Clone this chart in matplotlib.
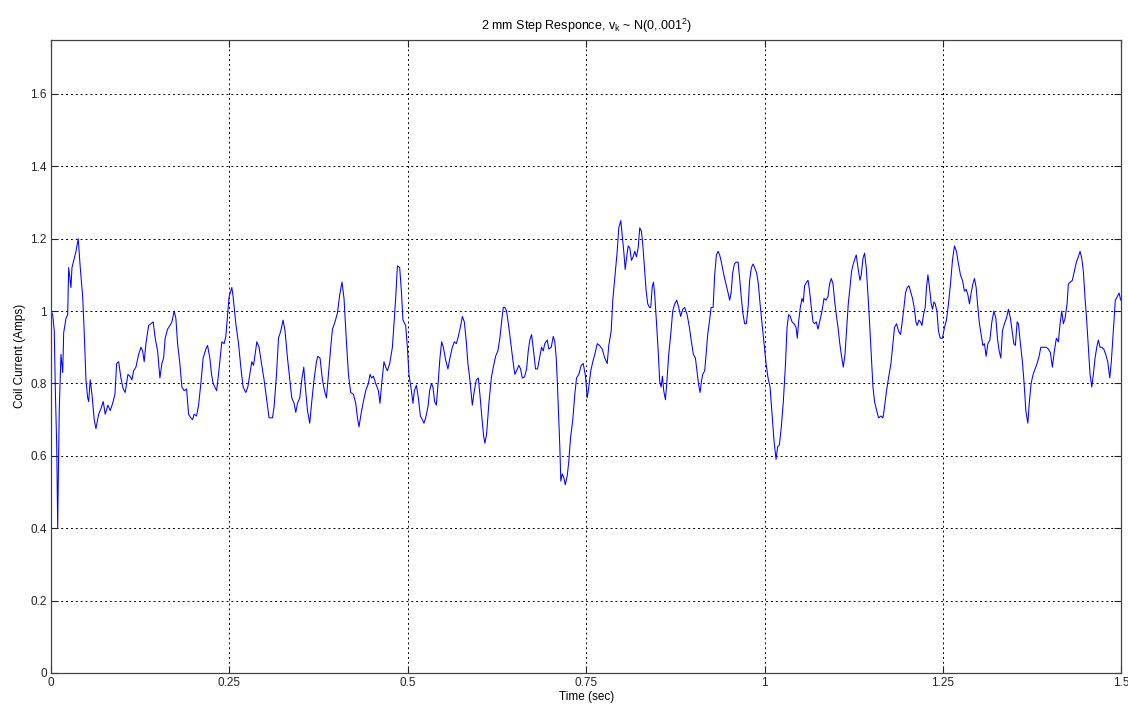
import numpy as np
import matplotlib
matplotlib.use('Agg')
import matplotlib.pyplot as plt

plt.rcParams['font.family'] = ['Liberation Sans', 'DejaVu Sans']
plt.rcParams['mathtext.default'] = 'regular'

# coil current samples: time in ms, current in amps
t_ms = [0, 2.4, 4.6, 6.0, 8.0, 9.4, 10.2, 11.6, 14.0, 16.4, 17.8, 21.0, 23.4, 24.8, 28.0, 29.4,
        32.6, 35.0, 38.2, 41.0, 44.4, 46.6, 49.0, 51.4, 52.8, 55.0, 57.4, 60.6, 63.0, 66.8,
        70.0, 73.2, 76.0, 79.8, 83.0, 86.4, 89.6, 92.0, 94.8, 98.0, 101.2, 104.0, 107.8,
        110.6, 113.4, 115.8, 119.0, 122.8, 126.0, 128.4, 130.6, 133.0, 136.8, 140.0, 143.2,
        146.0, 149.4, 152.6, 155.4, 157.8, 160.0, 163.4, 166.6, 169.4, 172.6, 175.0, 177.4,
        180.6, 183.4, 186.6, 190.0, 192.8, 196.0, 198.4, 200.6, 204.0, 206.8, 210.0, 213.2,
        217.0, 219.4, 222.6, 225.0, 227.2, 229.6, 232.0, 234.2, 237.0, 239.4, 242.6, 245.0,
        249.6, 253.4, 255.2, 259.0, 262.8, 266.0, 269.2, 273.0, 275.8, 278.6, 281.4, 283.8,
        286.0, 288.4, 291.6, 295.0, 298.6, 302.0, 305.6, 310.4, 312.6, 316.0, 318.8, 322.0,
        325.2, 328.0, 331.4, 334.6, 337.4, 340.6, 343.0, 345.4, 348.6, 351.4, 354.2, 356.0,
        359.4, 362.6, 365.4, 368.6, 372.0, 373.8, 377.0, 380.4, 383.2, 386.0, 388.8, 392.0,
        394.4, 398.0, 401.4, 404.6, 407.8, 410.6, 414.0, 416.8, 420.0, 423.8, 427.0, 429.4,
        431.6, 434.4, 437.2, 441.0, 444.8, 447.0, 449.4, 451.8, 455.0, 458.8, 461.0, 463.4,
        466.6, 469.0, 471.4, 474.6, 478.4, 480.6, 483.0, 485.4, 488.6, 491.0, 493.2, 497.0,
        499.4, 501.6, 505.0, 507.2, 509.2, 512.0, 514.8, 517.6, 520.4, 522.6, 525.0, 528.2,
        530.6, 533.0, 535.2, 537.6, 540.0, 542.8, 545.0, 547.4, 549.8, 553.0, 556.2, 559.0,
        562.4, 565.2, 568.0, 570.8, 573.6, 576.4, 579.2, 582.0, 584.2, 587.0, 590.4, 593.2,
        596.0, 598.8, 601.0, 603.4, 606.2, 608.0, 610.4, 613.6, 617.0, 619.8, 623.0, 626.2,
        629.0, 631.4, 633.8, 636.0, 638.4, 641.6, 645.0, 647.8, 650.0, 652.4, 655.6, 658.0,
        660.4, 663.6, 666.4, 668.8, 671.0, 673.4, 676.2, 679.0, 681.8, 684.6, 687.4, 689.8,
        692.0, 695.4, 697.6, 701.0, 703.8, 706.0, 708.0, 709.8, 711.6, 713.0, 714.4, 716.4,
        718.6, 720.6, 723.4, 725.6, 728.0, 731.2, 734.0, 736.4, 739.6, 743.0, 745.8, 749.0,
        751.4, 753.6, 756.4, 759.2, 762.0, 765.4, 768.6, 772.4, 776.0, 779.4, 781.6, 785.0,
        787.2, 790.0, 793.4, 795.6, 798.4, 800.4, 802.6, 804.6, 806.4, 808.8, 811.0, 813.4,
        815.8, 818.0, 820.4, 822.8, 825.0, 827.4, 829.2, 831.6, 834.0, 836.2, 838.6, 840.4,
        842.4, 844.2, 846.0, 848.4, 850.8, 853.0, 855.0, 856.8, 858.6, 861.0, 863.4, 865.6,
        868.4, 871.2, 874.0, 876.8, 879.6, 882.4, 885.2, 888.0, 891.4, 894.6, 897.4, 900.2,
        903.0, 905.8, 907.6, 909.6, 911.4, 913.2, 916.0, 918.0, 920.2, 922.6, 925.0, 927.8,
        930.0, 932.4, 934.8, 937.0, 939.4, 941.8, 944.0, 946.4, 948.8, 951.0, 953.0, 955.2,
        957.6, 960.0, 962.8, 965.0, 967.4, 969.8, 972.0, 974.4, 976.8, 979.0, 981.4, 983.8,
        986.0, 988.8, 991.2, 993.6, 996.4, 999.2, 1002.0, 1004.8, 1007.6, 1010.4, 1013.2,
        1016.0, 1018.2, 1020.6, 1023.4, 1026.2, 1029.0, 1031.4, 1033.6, 1036.0, 1038.4,
        1041.2, 1044.0, 1045.8, 1047.6, 1050.0, 1052.4, 1054.2, 1056.0, 1058.8, 1060.8,
        1063.0, 1065.4, 1067.8, 1070.0, 1072.4, 1074.8, 1077.0, 1080.4, 1083.2, 1086.0,
        1088.8, 1091.0, 1093.4, 1095.8, 1098.0, 1100.4, 1102.8, 1105.0, 1107.4, 1110.2,
        1112.6, 1114.8, 1117.2, 1119.6, 1121.8, 1124.2, 1126.6, 1128.4, 1130.8, 1133.6,
        1135.4, 1137.8, 1140.0, 1142.4, 1144.8, 1147.0, 1149.4, 1151.8, 1154.0, 1156.4,
        1159.6, 1163.0, 1165.8, 1168.0, 1170.8, 1173.6, 1177.0, 1179.8, 1182.0, 1184.8,
        1187.6, 1190.4, 1192.8, 1195.2, 1197.4, 1199.8, 1202.2, 1204.4, 1207.2, 1209.6,
        1212.0, 1213.8, 1216.2, 1218.4, 1220.4, 1222.6, 1225.0, 1226.8, 1228.8, 1231.0,
        1233.4, 1235.2, 1237.2, 1239.0, 1241.4, 1243.6, 1246.0, 1249.2, 1252.0, 1254.8,
        1257.6, 1260.4, 1263.2, 1266.0, 1268.8, 1271.6, 1274.4, 1277.2, 1280.0, 1282.4,
        1284.8, 1287.0, 1289.4, 1291.8, 1294.0, 1296.4, 1298.8, 1301.0, 1303.4, 1305.8,
        1308.0, 1310.4, 1312.8, 1315.6, 1318.4, 1321.2, 1324.0, 1326.2, 1328.6, 1331.0,
        1333.2, 1336.0, 1338.8, 1341.6, 1344.4, 1346.8, 1349.2, 1351.4, 1353.8, 1355.6,
        1358.4, 1361.2, 1363.6, 1366.0, 1368.8, 1371.0, 1373.4, 1376.2, 1379.0, 1381.8,
        1384.6, 1387.0, 1389.2, 1392.0, 1394.8, 1397.6, 1400.4, 1403.2, 1406.0, 1408.8,
        1411.6, 1414.0, 1416.4, 1418.6, 1421.0, 1423.8, 1425.6, 1428.4, 1431.2, 1434.0,
        1436.8, 1439.6, 1442.0, 1444.4, 1446.6, 1449.0, 1451.4, 1453.6, 1456.0, 1458.4,
        1460.6, 1463.0, 1465.4, 1467.6, 1470.0, 1472.4, 1475.2, 1478.0, 1480.8, 1483.6,
        1485.8, 1488.6, 1491.4, 1494.2, 1496.6, 1499.0, 1500.0]

amps = [1.0, 0.99, 0.945, 0.79, 0.63, 0.40, 0.53, 0.73, 0.88, 0.83, 0.94, 0.98, 0.99, 1.12, 1.065, 1.12,
        1.145, 1.165, 1.20, 1.12, 1.04, 0.94, 0.81, 0.76, 0.75, 0.81, 0.77, 0.70, 0.675, 0.715,
        0.73, 0.75, 0.715, 0.74, 0.725, 0.745, 0.77, 0.855, 0.86, 0.815, 0.785, 0.775, 0.825,
        0.82, 0.81, 0.835, 0.845, 0.88, 0.90, 0.89, 0.86, 0.91, 0.96, 0.965, 0.97,
        0.925, 0.89, 0.815, 0.855, 0.87, 0.925, 0.95, 0.96, 0.97, 1.00, 0.98, 0.91,
        0.855, 0.79, 0.78, 0.785, 0.715, 0.705, 0.70, 0.715, 0.71, 0.74, 0.80, 0.87,
        0.895, 0.905, 0.87, 0.825, 0.80, 0.79, 0.78, 0.815, 0.87, 0.915, 0.91, 0.93,
        1.04, 1.065, 1.04, 0.965, 0.91, 0.845, 0.79, 0.775, 0.79, 0.825, 0.86, 0.85,
        0.88, 0.915, 0.90, 0.855, 0.81, 0.76, 0.705, 0.705, 0.735, 0.825, 0.925, 0.945,
        0.975, 0.945, 0.87, 0.81, 0.76, 0.745, 0.72, 0.745, 0.76, 0.81, 0.845, 0.80,
        0.725, 0.69, 0.75, 0.81, 0.86, 0.875, 0.87, 0.81, 0.78, 0.76, 0.825, 0.90,
        0.95, 0.97, 0.995, 1.045, 1.08, 1.035, 0.915, 0.825, 0.775, 0.77, 0.745, 0.705,
        0.68, 0.715, 0.745, 0.78, 0.80, 0.825, 0.815, 0.82, 0.80, 0.78, 0.745, 0.80,
        0.86, 0.845, 0.835, 0.855, 0.90, 0.965, 1.035, 1.125, 1.12, 1.055, 0.975, 0.96,
        0.90, 0.825, 0.78, 0.745, 0.78, 0.795, 0.76, 0.71, 0.70, 0.69, 0.705, 0.735,
        0.78, 0.80, 0.79, 0.75, 0.74, 0.81, 0.87, 0.915, 0.90, 0.865, 0.84, 0.87,
        0.90, 0.915, 0.91, 0.93, 0.955, 0.985, 0.97, 0.915, 0.855, 0.81, 0.74, 0.78,
        0.81, 0.815, 0.77, 0.715, 0.655, 0.635, 0.66, 0.745, 0.815, 0.845, 0.875, 0.89,
        0.925, 0.97, 1.01, 1.01, 1.00, 0.955, 0.90, 0.855, 0.825, 0.835, 0.85, 0.84,
        0.815, 0.818, 0.84, 0.89, 0.92, 0.935, 0.89, 0.84, 0.84, 0.87, 0.90, 0.89,
        0.91, 0.92, 0.895, 0.90, 0.93, 0.915, 0.87, 0.79, 0.70, 0.625, 0.53, 0.55,
        0.54, 0.52, 0.545, 0.585, 0.65, 0.70, 0.77, 0.815, 0.825, 0.85, 0.855, 0.82,
        0.76, 0.79, 0.835, 0.86, 0.88, 0.91, 0.905, 0.895, 0.87, 0.855, 0.905, 0.945,
        1.03, 1.09, 1.165, 1.23, 1.25, 1.21, 1.165, 1.115, 1.145, 1.18, 1.175, 1.14,
        1.15, 1.165, 1.15, 1.175, 1.23, 1.22, 1.185, 1.12, 1.055, 1.02, 1.01, 1.01,
        1.065, 1.08, 1.045, 0.97, 0.89, 0.805, 0.79, 0.82, 0.78, 0.755, 0.815, 0.88,
        0.935, 1.00, 1.02, 1.03, 1.01, 0.985, 1.005, 1.01, 0.99, 0.955, 0.915, 0.88,
        0.87, 0.825, 0.795, 0.775, 0.805, 0.825, 0.835, 0.88, 0.935, 0.97, 1.01, 1.01,
        1.10, 1.155, 1.165, 1.155, 1.135, 1.11, 1.09, 1.07, 1.05, 1.03, 1.05, 1.105,
        1.13, 1.135, 1.135, 1.09, 1.035, 0.99, 0.965, 0.965, 1.01, 1.085, 1.12, 1.13,
        1.12, 1.105, 1.075, 1.02, 0.965, 0.91, 0.855, 0.815, 0.79, 0.715, 0.64,
        0.59, 0.625, 0.63, 0.68, 0.75, 0.845, 0.955, 0.99, 0.985, 0.97,
        0.965, 0.955, 0.925, 0.97, 1.01, 1.035, 1.025, 1.07, 1.08, 1.085,
        1.055, 1.01, 0.97, 0.965, 0.97, 0.95, 0.97, 1.00, 1.035, 1.03,
        1.04, 1.075, 1.09, 1.075, 1.03, 0.99, 0.955, 0.915, 0.88, 0.845,
        0.88, 0.945, 1.02, 1.065, 1.11, 1.13, 1.145, 1.155, 1.12, 1.085,
        1.10, 1.145, 1.16, 1.12, 1.045, 0.97, 0.88, 0.79, 0.75, 0.73,
        0.705, 0.71, 0.705, 0.735, 0.78, 0.815, 0.855, 0.91, 0.955, 0.965,
        0.945, 0.935, 0.97, 1.01, 1.05, 1.065, 1.07, 1.055, 1.035, 1.01,
        0.97, 0.96, 0.975, 0.97, 0.96, 0.99, 1.01, 1.065, 1.10, 1.065,
        1.02, 1.005, 1.025, 1.02, 1.00, 0.945, 0.925, 0.925, 0.955, 0.975,
        1.02, 1.075, 1.14, 1.18, 1.165, 1.13, 1.10, 1.085, 1.055, 1.06,
        1.045, 1.02, 1.05, 1.075, 1.09, 1.065, 1.01, 0.965, 0.935, 0.905,
        0.91, 0.875, 0.91, 0.92, 0.97, 1.00, 0.98, 0.925, 0.89, 0.87,
        0.945, 0.965, 0.98, 1.005, 0.98, 0.945, 0.91, 0.905, 0.97, 0.965,
        0.91, 0.86, 0.80, 0.725, 0.69, 0.75, 0.80, 0.825, 0.84, 0.855,
        0.875, 0.90, 0.90, 0.90, 0.90, 0.895, 0.885, 0.845, 0.89, 0.925,
        0.915, 0.965, 1.00, 0.965, 0.98, 1.02, 1.075, 1.08, 1.085, 1.11,
        1.135, 1.15, 1.165, 1.145, 1.11, 1.035, 0.97, 0.90, 0.825, 0.79,
        0.825, 0.87, 0.90, 0.92, 0.90, 0.90, 0.895, 0.88, 0.86, 0.815,
        0.86, 0.945, 1.03, 1.04, 1.05, 1.03, 1.03]

x_ticks = [0, 0.25, 0.5, 0.75, 1, 1.25, 1.5]
x_labels = ['0', '0.25', '0.5', '0.75', '1', '1.25', '1.5']
y_ticks = [0, 0.2, 0.4, 0.6, 0.8, 1, 1.2, 1.4, 1.6]
y_labels = ['0', '0.2', '0.4', '0.6', '0.8', '1', '1.2', '1.4', '1.6']

t = np.array(t_ms) / 1000.0
i_coil = np.array(amps)

fig = plt.figure(figsize=(11.28, 7.07), dpi=100)
ax = fig.add_axes([0.0452, 0.0481, 0.949, 0.8959])

ax.plot(t, i_coil, color='#0000ff', linewidth=0.75)

ax.set_xlim(0, 1.5)
ax.set_ylim(0, 1.75)
ax.set_xticks(x_ticks)
ax.set_xticklabels(x_labels)
ax.set_yticks(y_ticks)
ax.set_yticklabels(y_labels)
ax.tick_params(direction='in', top=True, right=True, length=5, width=0.8,
               labelsize=8.5, colors='#222222', pad=3)
ax.grid(True, color='black', linestyle=(0, (2, 3)), linewidth=0.7)
for s in ax.spines.values():
    s.set_color('#444444')
    s.set_linewidth(0.9)

ax.set_xlabel('Time (sec)', fontsize=8.5, labelpad=1)
ax.set_ylabel('Coil Current (Amps)', fontsize=8.5, labelpad=3)
ax.set_title(r'2 mm Step Responce, $v_k$ ~ N(0,.001$^2$)', fontsize=9, pad=7)

fig.savefig('out.png', dpi=100)
